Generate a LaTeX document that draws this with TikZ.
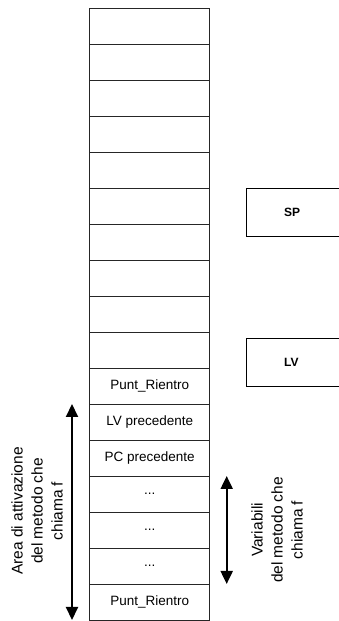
\documentclass[tikz,border=0pt]{standalone}
\usepackage{fontspec}
\setmainfont{Liberation Sans}
\usetikzlibrary{positioning,arrows.meta}

\tikzset{
  cell/.style={draw=black!85, line width=0.8pt, minimum width=120pt,
    minimum height=36pt, inner sep=0pt, outer sep=0pt,
    font=\fontsize{13.5}{16}\selectfont},
  regbox/.style={draw, line width=1pt, minimum height=48pt, text width=60pt,
    align=left, inner xsep=38pt, inner ysep=0pt, font=\bfseries\fontsize{12}{14}\selectfont},
  span/.style={line width=2pt, {Triangle[length=13pt,width=12pt]}-{Triangle[length=13pt,width=12pt]}},
  sidelabel/.style={rotate=90, align=center, font=\fontsize{15.5}{20}\selectfont}
}

\begin{document}
\begin{tikzpicture}[x=1pt,y=1pt]
		  \useasboundingbox (0,0) rectangle (339,621);
		  % the stack
		  \node[cell] (c1) at (149.7,595) {};
		  \node[cell, below=0pt of c1] (c2) {};
		  \node[cell, below=0pt of c2] (c3) {};
		  \node[cell, below=0pt of c3] (c4) {};
		  \node[cell, below=0pt of c4] (c5) {};
		  \node[cell, below=0pt of c5] (c6) {};
		  \node[cell, below=0pt of c6] (c7) {};
		  \node[cell, below=0pt of c7] (c8) {};
		  \node[cell, below=0pt of c8] (c9) {};
		  \node[cell, below=0pt of c9] (c10) {};
		  \node[cell, below=0pt of c10] (c11) {Punt\_Rientro};
		  \node[cell, below=0pt of c11] (c12) {LV precedente};
		  \node[cell, below=0pt of c12] (c13) {PC precedente};
		  \node[cell, below=0pt of c13] (c14) {...};
		  \node[cell, below=0pt of c14] (c15) {...};
		  \node[cell, below=0pt of c15] (c16) {...};
		  \node[cell, below=0pt of c16] (c17) {Punt\_Rientro};
		  % registers
		  \node[regbox, anchor=west] (sp) at (245.7,408.3) {SP};
		  \node[regbox, anchor=west] (lv) at (245.7,258.2) {LV};
		  % spans
		  \coordinate (lax) at (72,0);
		  \coordinate (rax) at (226.7,0);
		  \draw[span] (c12.north -| lax) -- (c17.south -| lax);
		  \draw[span] (c14.north -| rax) -- (c16.south -| rax);
		  \node[sidelabel] (area) at (37,110) {Area di attivazione\\del metodo che\\chiama f};
		  \node[sidelabel] (vars) at (277,91) {Variabili\\del metodo che\\chiama f};
		    \end{tikzpicture}
\end{document}
